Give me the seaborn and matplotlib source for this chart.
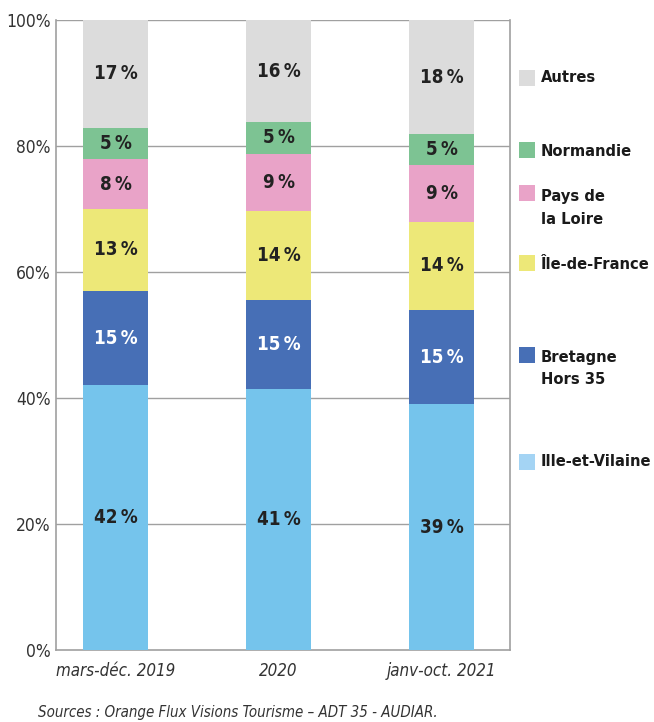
import matplotlib
matplotlib.use("Agg")
import matplotlib.pyplot as plt
import seaborn as sns
import pandas as pd
import numpy as np
from matplotlib.patches import Rectangle

periods = ["mars-déc. 2019", "2020", "janv-oct. 2021"]
series = ["Ille-et-Vilaine", "Bretagne Hors 35", "Île-de-France", "Pays de la Loire", "Normandie", "Autres"]
legend_labels = ["Ille-et-Vilaine", "Bretagne\nHors 35", "Île-de-France", "Pays de\nla Loire", "Normandie", "Autres"]
ille_et_vilaine = [42.0, 41.4, 39.0]
bretagne_hors35 = [15.0, 14.2, 15.0]
ile_de_france = [13.0, 14.1, 14.0]
pays_de_loire = [7.9, 9.1, 9.0]
normandie = [5.0, 5.0, 4.9]
autres = [17.1, 16.2, 18.1]
shown_labels = [
    [42, 41, 39],
    [15, 15, 15],
    [13, 14, 14],
    [8, 9, 9],
    [5, 5, 5],
    [17, 16, 18],
]
colors = ["#75c4ec", "#476fb6", "#ede878", "#e9a3c8", "#7dc393", "#dcdcdc"]
legend_colors = ["#a4d4f4", "#476fb6", "#ede878", "#e9a3c8", "#7dc393", "#dcdcdc"]
label_colors = ["#222222", "#ffffff", "#222222", "#222222", "#222222", "#222222"]
yticks = [0, 20, 40, 60, 80, 100]

values = [ille_et_vilaine, bretagne_hors35, ile_de_france, pays_de_loire, normandie, autres]

sns.set_theme(style="white")
plt.rcParams["font.family"] = ["DejaVu Sans"]
plt.rcParams["font.stretch"] = "condensed"

fig = plt.figure(figsize=(6.54, 7.22), dpi=100)
ax = fig.add_axes([56/654, 1-650/722, (510-56)/654, (650-20)/722])

bottom = np.zeros(len(periods))
for i, name in enumerate(series):
    df = pd.DataFrame({"period": periods, "value": values[i]})
    sns.barplot(data=df, x="period", y="value", bottom=bottom, color=colors[i],
                width=0.4, ax=ax, saturation=1, linewidth=0, zorder=3)
    for j in range(len(periods)):
        ax.text(j, bottom[j] + values[i][j] / 2, f"{shown_labels[i][j]}\u2009%",
                ha="center", va="center", fontsize=13.5, fontweight="bold",
                fontstretch="condensed", color=label_colors[i], zorder=4)
    bottom = bottom + np.array(values[i])

ax.set_xlim(-0.365, 2.42)
ax.set_ylim(0, 100)
ax.set_yticks(yticks)
ax.set_yticklabels([f"{t}%" for t in yticks], fontsize=12.5, color="#333333",
                   fontstretch="condensed")
ax.set_xticks(range(len(periods)))
ax.set_xticklabels(periods, fontsize=12.2, style="italic", color="#333333",
                   fontstretch="condensed")
ax.tick_params(axis="y", length=0, pad=4)
ax.tick_params(axis="x", length=0, pad=9)
ax.set_xlabel("")
ax.set_ylabel("")
for y in yticks[1:]:
    ax.axhline(y, color="#a0a0a0", linewidth=1, zorder=1)
for s in ["left", "bottom", "right"]:
    ax.spines[s].set_visible(True)
    ax.spines[s].set_color("#a0a0a0")
    ax.spines[s].set_linewidth(1.2)
ax.spines["top"].set_visible(False)

# legend (manual, right side)
square_y = [462, 355, 263, 193, 150, 78]
text_y = [461, 357, 264, 196, 152, 78]
for i in range(len(series)):
    fig.patches.append(Rectangle((519/654, 1-(square_y[i]+8)/722), 16/654, 16/722,
                                 transform=fig.transFigure, facecolor=legend_colors[i],
                                 edgecolor="none"))
    for k, line in enumerate(legend_labels[i].split("\n")):
        fig.text(541/654, 1-(text_y[i] + 23*k)/722, line, ha="left", va="center",
                 fontsize=11.8, fontweight="bold", color="#1a1a1a",
                 fontstretch="condensed")

fig.text(38/654, 1-713/722, "Sources : Orange Flux Visions Tourisme – ADT 35 - AUDIAR.",
         ha="left", va="center", fontsize=10.8, style="italic", color="#333333",
         fontstretch="condensed")

fig.savefig("out.png", dpi=100)
